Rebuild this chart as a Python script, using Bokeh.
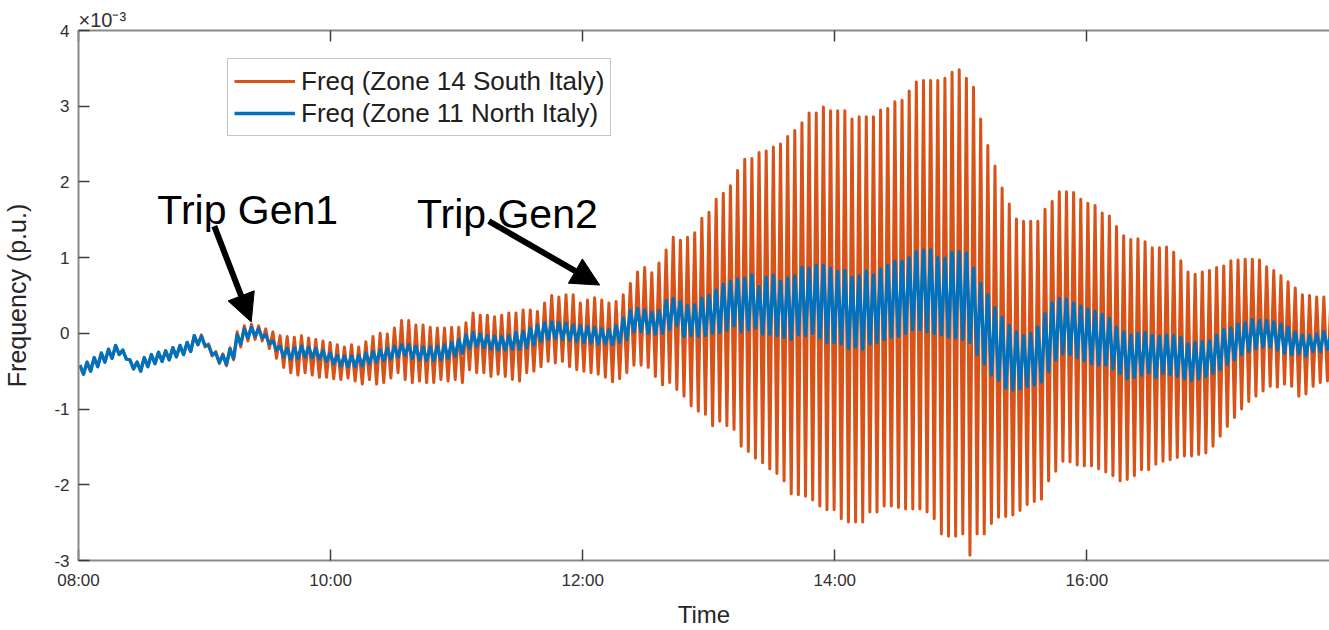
import numpy as np
from bokeh.plotting import figure
from bokeh.models import (Range1d, LinearAxis, FixedTicker, Label, Arrow,
                          NormalHead, Legend, LegendItem)
from bokeh.embed import file_html
from bokeh.resources import INLINE

# ---------------- data (frequency deviation, x 1e-3 p.u.) ----------------
# One oscillation cycle ~3.4 minutes; each cycle = one peak + one trough.
cycle_min = 3.403          # minutes per inter-area oscillation cycle
first_peak_min = 0.665     # minutes after 08:00 of the first peak

# Zone 14 South Italy: per-cycle peak values
south_hi = [
    -0.42, -0.38, -0.32, -0.26, -0.21, -0.16, -0.22, -0.35, -0.38, -0.32,
    -0.28, -0.25, -0.23, -0.19, -0.16, -0.12, -0.03,
    -0.02, -0.14, -0.24, -0.27, -0.19,
    0.02, 0.10, 0.12, 0.10,
    0.06, 0.02, -0.03, -0.04, -0.05, -0.03, -0.06, -0.08, -0.10, -0.12,
    -0.15, -0.18, -0.15, -0.18, -0.11, -0.04, 0.00, -0.01, 0.07, 0.17,
    0.17, 0.11, 0.11, 0.08, 0.07, 0.07, 0.08, 0.08, 0.14, 0.27,
    0.24, 0.24, 0.22, 0.24, 0.27, 0.27, 0.31, 0.31, 0.29, 0.40,
    0.50, 0.48, 0.51, 0.51, 0.40, 0.44, 0.47,
    0.44, 0.40, 0.42, 0.51, 0.66, 0.81, 0.87, 0.80, 0.93, 1.10,
    1.27, 1.23, 1.27, 1.33, 1.52, 1.60, 1.77, 1.85, 1.95, 2.15,
    2.30, 2.31, 2.39, 2.41, 2.46, 2.50, 2.60, 2.68, 2.78, 2.91,
    2.91, 2.99, 2.94, 2.94, 2.94, 2.83, 2.86, 2.86, 2.86, 2.95,
    2.97, 3.06, 3.08, 3.20, 3.32, 3.34, 3.34, 3.34, 3.37, 3.45,
    3.48, 3.37, 3.25, 2.83, 2.48, 2.21, 1.92, 1.71, 1.51, 1.48,
    1.48, 1.48, 1.64, 1.74, 1.87, 1.87, 1.86, 1.77, 1.72, 1.69,
    1.59, 1.55, 1.41, 1.29, 1.24, 1.25, 1.21, 1.13, 1.13, 1.14,
    1.07, 0.96, 0.81, 0.78, 0.81, 0.83, 0.87, 0.89, 0.96, 0.97,
    0.98, 0.98, 0.97, 0.88, 0.83, 0.76, 0.68, 0.60, 0.51, 0.50,
    0.48, 0.48, 0.47,
]
# Zone 14 South Italy: per-cycle trough values
south_lo = [
    -0.54, -0.50, -0.44, -0.38, -0.33, -0.28, -0.34, -0.47, -0.50, -0.44,
    -0.40, -0.37, -0.35, -0.31, -0.28, -0.24, -0.15,
    -0.18, -0.30, -0.40, -0.43, -0.35,
    -0.18, -0.10, -0.08, -0.10,
    -0.20, -0.33, -0.45, -0.52, -0.55, -0.52, -0.55, -0.58, -0.58, -0.60,
    -0.61, -0.59, -0.63, -0.67, -0.61, -0.67, -0.65, -0.59, -0.52, -0.61,
    -0.65, -0.63, -0.65, -0.65, -0.61, -0.63, -0.61, -0.65, -0.48, -0.52,
    -0.52, -0.57, -0.54, -0.57, -0.61, -0.63, -0.52, -0.50, -0.44, -0.37,
    -0.39, -0.37, -0.44, -0.48, -0.50, -0.52, -0.54,
    -0.58, -0.64, -0.60,
    -0.52, -0.42, -0.42, -0.45, -0.57, -0.68, -0.65,
    -0.74, -0.83, -0.96, -1.03, -1.07, -1.22, -1.16, -1.22, -1.27, -1.49,
    -1.56, -1.65, -1.71, -1.79, -1.85, -1.95, -2.12, -2.13, -2.15, -2.20,
    -2.28, -2.33, -2.33, -2.45, -2.49, -2.49, -2.49, -2.36, -2.36, -2.28,
    -2.28, -2.30, -2.32, -2.32, -2.32, -2.36, -2.45, -2.65, -2.68, -2.68,
    -2.65, -2.93, -2.65, -2.65, -2.51, -2.43, -2.42, -2.40, -2.34, -2.26,
    -2.22, -2.19, -1.95, -1.82, -1.69, -1.70, -1.74, -1.75, -1.75, -1.79,
    -1.83, -1.88, -1.95, -1.93, -1.88, -1.80, -1.80, -1.73, -1.69, -1.67,
    -1.64, -1.62, -1.62, -1.60, -1.58, -1.49, -1.36, -1.23, -1.11, -1.00,
    -0.90, -0.83, -0.76, -0.70, -0.71, -0.67, -0.70, -0.83, -0.80, -0.70,
    -0.65, -0.63,
    -0.62,
]
# Zone 11 North Italy: per-cycle peak values
north_hi = [
    -0.42, -0.38, -0.32, -0.26, -0.21, -0.16, -0.22, -0.35, -0.38, -0.32,
    -0.28, -0.25, -0.23, -0.19, -0.16, -0.12, -0.03, -0.04, -0.16, -0.26,
    -0.29, -0.21, -0.02, 0.06, 0.08, 0.06, -0.02, -0.10,
    -0.17, -0.20, -0.19, -0.17, -0.18, -0.20, -0.23, -0.26, -0.29, -0.30,
    -0.30, -0.29, -0.26, -0.24, -0.22, -0.20, -0.17, -0.15,
    -0.15, -0.17, -0.18, -0.18, -0.17, -0.15, -0.12, -0.08, -0.02, 0.01,
    -0.01, -0.03, -0.04, -0.04, -0.03,
    0.01, 0.03, 0.07, 0.11, 0.14, 0.15, 0.14, 0.13, 0.11, 0.10, 0.09, 0.08,
    0.06, 0.05, 0.10, 0.20, 0.30, 0.33, 0.31, 0.28, 0.30, 0.43,
    0.46, 0.42, 0.37, 0.38, 0.46, 0.50, 0.57, 0.65, 0.69, 0.72,
    0.73, 0.77, 0.62, 0.74, 0.77, 0.69, 0.73, 0.76, 0.87, 0.86,
    0.90, 0.90, 0.86, 0.82, 0.83, 0.74, 0.76, 0.82, 0.77, 0.85,
    0.90, 0.95, 0.95, 1.00, 1.08, 1.10, 1.10, 1.00, 0.99, 1.07,
    1.08, 1.06, 0.86, 0.66, 0.51, 0.34, 0.21, 0.10, 0.02, -0.03,
    0.00, 0.08, 0.26, 0.40, 0.46, 0.45, 0.40, 0.36, 0.32, 0.29,
    0.25, 0.20, 0.08, 0.02, -0.02, 0.00, 0.01, -0.03, -0.04, -0.02,
    -0.03, -0.05, -0.14, -0.12, -0.11, -0.10, -0.02, 0.05, 0.07, 0.12,
    0.14, 0.18, 0.17, 0.17, 0.15, 0.12, 0.08, 0.02, -0.02, -0.03,
    -0.01, 0.02, 0.00,
]
# Zone 11 North Italy: per-cycle trough values
north_lo = [
    -0.54, -0.50, -0.44, -0.38, -0.33, -0.28, -0.34, -0.47, -0.50, -0.44,
    -0.40, -0.37, -0.35, -0.31, -0.28, -0.24, -0.15, -0.16, -0.28, -0.38,
    -0.41, -0.33, -0.14, -0.06, -0.04, -0.06, -0.14, -0.22,
    -0.31, -0.34, -0.33, -0.31, -0.32, -0.34, -0.37, -0.40, -0.43, -0.44,
    -0.44, -0.43, -0.40, -0.38, -0.36, -0.34, -0.31, -0.29,
    -0.33, -0.35, -0.36, -0.36, -0.35, -0.33, -0.30, -0.26, -0.20, -0.17,
    -0.19, -0.21, -0.22, -0.22, -0.21,
    -0.21, -0.19, -0.15, -0.11, -0.08, -0.07, -0.08, -0.09, -0.11, -0.12, -0.13, -0.14,
    -0.14, -0.15, -0.12, -0.08, 0.02, 0.02, 0.00, -0.01, 0.00, 0.05,
    0.10, -0.04, -0.03, -0.04, -0.03, 0.00, 0.01, 0.04, 0.10, 0.02,
    0.05, 0.07, -0.01, -0.01, -0.03, -0.05, -0.08, -0.02, -0.03, 0.00,
    -0.06, -0.12, -0.12, -0.14, -0.20, -0.18, -0.21, -0.14, -0.12, -0.08,
    -0.05, -0.04, 0.00, 0.05, 0.05, 0.02, 0.00, -0.02, -0.05, -0.06,
    -0.08, -0.12, -0.28, -0.40, -0.55, -0.62, -0.72, -0.75, -0.73, -0.70,
    -0.68, -0.64, -0.50, -0.35, -0.27, -0.28, -0.32, -0.36, -0.40, -0.42,
    -0.42, -0.47, -0.53, -0.60, -0.58, -0.55, -0.52, -0.58, -0.53, -0.54,
    -0.57, -0.60, -0.62, -0.60, -0.57, -0.53, -0.48, -0.41, -0.35, -0.28,
    -0.24, -0.20, -0.18, -0.18, -0.22, -0.26, -0.28, -0.27, -0.30, -0.24,
    -0.24, -0.21, -0.20,
]

x_ticks = [8, 10, 12, 14, 16]
x_tick_labels = ["08:00", "10:00", "12:00", "14:00", "16:00"]
y_ticks = [-3, -2, -1, 0, 1, 2, 3, 4]

label_south = "Freq (Zone 14 South Italy)"
label_north = "Freq (Zone 11 North Italy)"
exponent_text = "\u00d710\u207b\u00b3"

# ---------------- build the sampled traces ----------------
def zigzag(hi, lo):
    n = min(len(hi), len(lo))
    k = np.arange(n)
    t_peak = 8 + (first_peak_min + cycle_min * k) / 60.0
    t_trough = t_peak + cycle_min / 2 / 60.0
    t = np.empty(2 * n)
    y = np.empty(2 * n)
    t[0::2] = t_peak
    t[1::2] = t_trough
    y[0::2] = hi[:n]
    y[1::2] = lo[:n]
    return t, y

ts, ys = zigzag(south_hi, south_lo)
tn, yn = zigzag(north_hi, north_lo)

# ---------------- figure ----------------
W, H = 1329, 630
ML, MR, MT, MB = 76, 0, 30, 69
px_per_hour = 126.25
x_end = 8 + (W - ML - MR) / px_per_hour

FONT = "Liberation Sans"
AX_LINE = "#8a8a8a"
TICK = "#3c3c3c"
TXT = "#303030"

p = figure(width=W, height=H, output_backend="svg", toolbar_location=None,
           x_range=Range1d(8, x_end), y_range=Range1d(-3, 4),
           min_border_left=ML, min_border_right=MR,
           min_border_top=MT, min_border_bottom=MB,
           background_fill_color="white", border_fill_color="white")
# exponent marker placed as a left-aligned title just above the axes
p.title.text = exponent_text
p.title.align = "left"
p.title.offset = 0
p.title.standoff = 0
p.title.text_font = FONT
p.title.text_font_size = "20px"
p.title.text_font_style = "normal"
p.title.text_color = TXT
p.title.text_line_height = 1.0
p.outline_line_color = None
p.xgrid.visible = False
p.ygrid.visible = False

def style_axis(ax):
    ax.axis_line_color = AX_LINE
    ax.axis_line_width = 2
    ax.major_tick_line_color = TICK
    ax.major_tick_line_width = 1.5
    ax.major_tick_in = 11
    ax.major_tick_out = 0
    ax.minor_tick_line_color = None
    ax.major_label_text_font = FONT
    ax.major_label_text_font_size = "17px"
    ax.major_label_text_color = TXT
    ax.axis_label_text_font = FONT
    ax.axis_label_text_font_style = "normal"
    ax.axis_label_text_font_size = "24px"
    ax.axis_label_text_color = "#262626"

xa = p.xaxis[0]
xa.ticker = FixedTicker(ticks=x_ticks)
xa.major_label_overrides = {t: l for t, l in zip(x_ticks, x_tick_labels)}
xa.axis_label = "Time"
style_axis(xa)
xa.major_label_standoff = 10
xa.axis_label_standoff = 8

ya = p.yaxis[0]
ya.ticker = FixedTicker(ticks=y_ticks)
ya.major_label_overrides = {t: str(t) for t in y_ticks}
ya.axis_label = "Frequency (p.u.)"
style_axis(ya)
ya.axis_label_text_font_size = "25px"
ya.major_label_standoff = 9
ya.axis_label_standoff = 20

# top border with inward ticks and no labels (ticks given as minor ticks)
top = LinearAxis(ticker=FixedTicker(ticks=[], minor_ticks=x_ticks))
top.axis_line_color = AX_LINE
top.axis_line_width = 2
top.major_tick_line_color = None
top.minor_tick_line_color = TICK
top.minor_tick_line_width = 1.5
top.minor_tick_in = 11
top.minor_tick_out = 0
top.major_label_standoff = 0
p.add_layout(top, "above")

r_s = p.line(ts, ys, line_color="#D95319", line_width=3.0, line_join="round")
r_n = p.line(tn, yn, line_color="#0072BD", line_width=3.4, line_join="round")

legend = Legend(items=[LegendItem(label=label_south, renderers=[r_s]),
                       LegendItem(label=label_north, renderers=[r_n])],
                location=(149, 424))
legend.label_text_font = FONT
legend.label_text_font_size = "26px"
legend.label_text_color = "#202020"
legend.padding = 6
legend.margin = 0
legend.spacing = 0
legend.label_height = 32
legend.glyph_height = 32
legend.glyph_width = 61
legend.label_standoff = 6
legend.border_line_color = "#8c8c8c"
legend.border_line_width = 1.5
legend.background_fill_color = "white"
legend.background_fill_alpha = 1.0
p.add_layout(legend)

# annotations
def px2t(px):
    return 8 + (px - 76) / px_per_hour

def py2v(py):
    return (333.4 - py) / 75.86

p.add_layout(Label(x=px2t(155), y=py2v(210), text="Trip Gen1", text_font=FONT,
                   text_font_size="41px", text_color="black",
                   text_baseline="alphabetic", text_align="left"))
p.add_layout(Label(x=px2t(415), y=py2v(214), text="Trip Gen2", text_font=FONT,
                   text_font_size="41px", text_color="black",
                   text_baseline="alphabetic", text_align="left"))

for (x0, y0, x1, y1) in [(212, 226, 249, 322), (487, 221, 598, 285)]:
    p.add_layout(Arrow(end=NormalHead(size=28, fill_color="black",
                                      line_color="black", line_width=1),
                       x_start=px2t(x0), y_start=py2v(y0),
                       x_end=px2t(x1), y_end=py2v(y1),
                       line_color="black", line_width=6))

open("out.html", "w").write(file_html(p, INLINE))
